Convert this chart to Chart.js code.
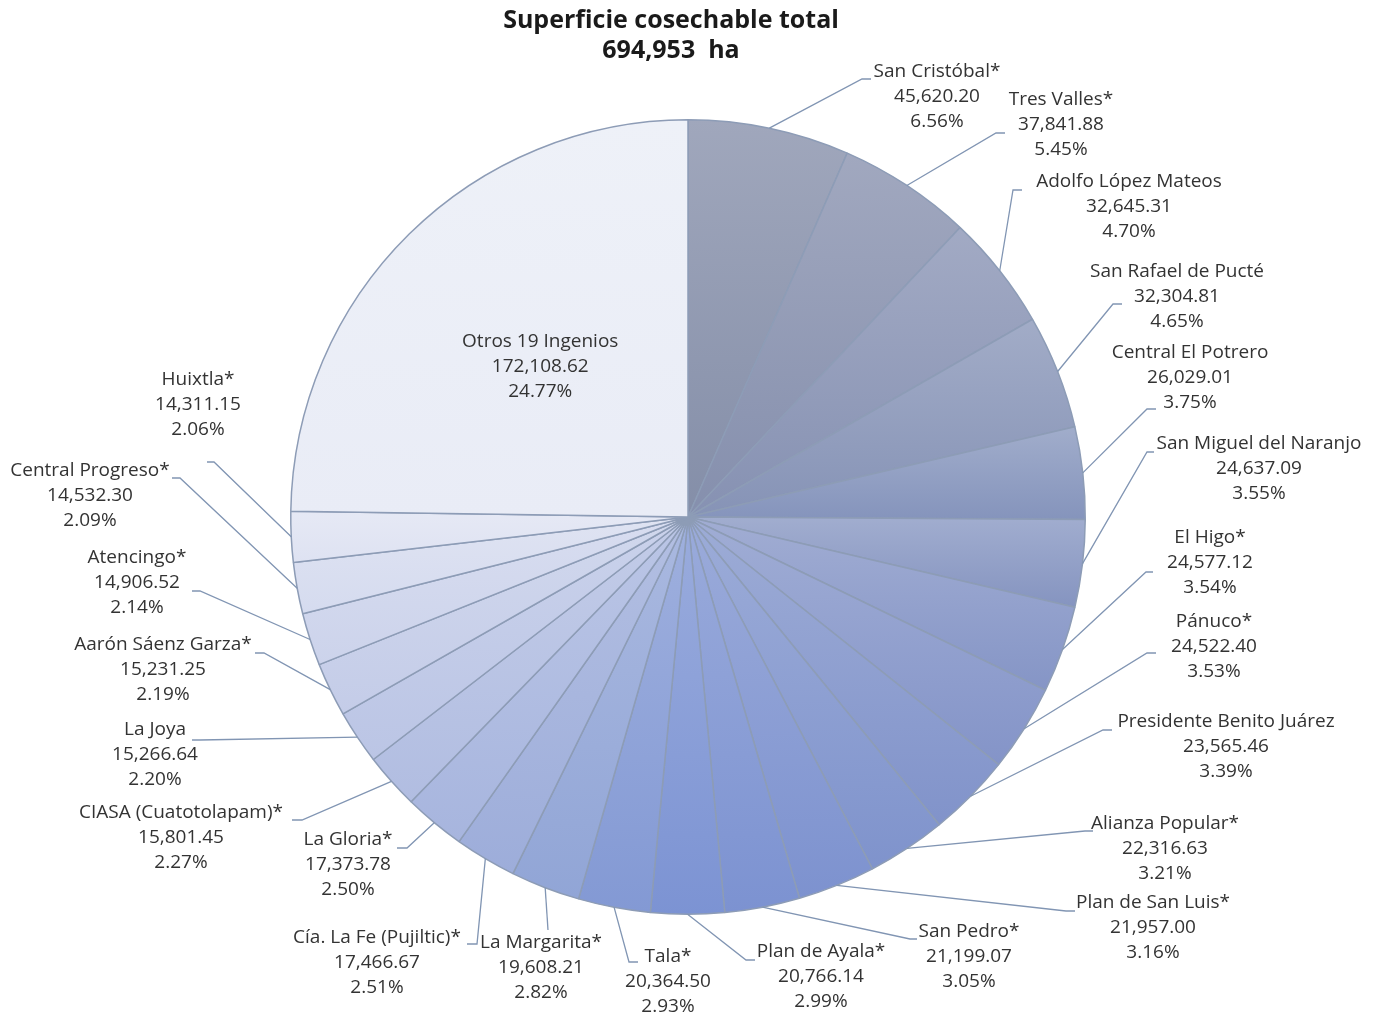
<!DOCTYPE html>
<html lang="es">
<head>
<meta charset="utf-8">
<title>Superficie cosechable total</title>
<script src="https://cdn.jsdelivr.net/npm/chart.js@4.4.1/dist/chart.umd.min.js"></script>
<style>
  html, body { margin: 0; padding: 0; background: #ffffff; }
  #wrap { position: relative; width: 1377px; height: 1016px; }
</style>
</head>
<body>
<div id="wrap"><canvas id="pieChart"></canvas></div>
<script>
// Superficie cosechable por ingenio (ha), clockwise from 12 o'clock
const NAMES = [
  "San Cristóbal*", "Tres Valles*", "Adolfo López Mateos", "San Rafael de Pucté",
  "Central El Potrero", "San Miguel del Naranjo", "El Higo*", "Pánuco*",
  "Presidente Benito Juárez", "Alianza Popular*", "Plan de San Luis*", "San Pedro*",
  "Plan de Ayala*", "Tala*", "La Margarita*", "Cía. La Fe (Pujiltic)*",
  "La Gloria*", "CIASA (Cuatotolapam)*", "La Joya", "Aarón Sáenz Garza*",
  "Atencingo*", "Central Progreso*", "Huixtla*", "Otros 19 Ingenios",
];

const VALUES = [
  45620.20, 37841.88, 32645.31, 32304.81,
  26029.01, 24637.09, 24577.12, 24522.40,
  23565.46, 22316.63, 21957.00, 21199.07,
  20766.14, 20364.50, 19608.21, 17466.67,
  17373.78, 15801.45, 15266.64, 15231.25,
  14906.52, 14532.30, 14311.15, 172108.62,
];

const TITLE_LINES = ["Superficie cosechable total", "694,953  ha"];

// Mid-tone of each slice; each gets a light-top / dark-bottom gradient
const FILLS = [
  "#8f98b0", "#9099b4", "#919bb9", "#919dbd",
  "#909ec2", "#909ec6", "#909fcb", "#8f9ecd",
  "#8c9dcf", "#8b9dd1", "#899cd3", "#889cd5",
  "#889dd7", "#8ea2d8", "#9badda", "#a6b4dd",
  "#afbce1", "#b8c3e4", "#c1cae7", "#c9d1ea",
  "#d1d7ed", "#d9def0", "#e1e5f3", "#ebeef7",
];

const EDGE_CLR = "#8d9cb6";
const LEADER_CLR = "#8195b3";
const TEXT_CLR = "#333333";
const LABEL_FONT = "19px 'Open Sans', sans-serif";
const LINE_H = 25;

// Label layout: [text centre x, first line y, stub end x, stub y, elbow x]
const LABEL_LAYOUT = [
  [937, 72, 871, 79, 862],
  [1061, 100, 1005, 133, 996],
  [1129, 182, 1022, 190, 1013],
  [1177, 272, 1122, 304, 1113],
  [1190, 353, 1156, 409, 1147],
  [1259, 444, 1154, 452, 1147],
  [1210, 538, 1153, 572, 1146],
  [1214, 622, 1156, 653, 1147],
  [1226, 722, 1112, 730, 1103],
  [1165, 824, 1093, 831, 1085],
  [1153, 903, 1075, 911, 1066],
  [969, 932, 917, 939, 910],
  [821, 952, 755, 960, 746],
  [668, 957, 638, 962, 629],
  [541, 943, 548, 930, 548],
  [377, 938, 467, 944, 477],
  [348, 840, 397, 848, 407],
  [181, 813, 292, 820, 302],
  [155, 730, 192, 740, 200],
  [163, 645, 255, 653, 264],
  [137, 558, 192, 591, 200],
  [90, 471, 172, 478, 180],
  [198, 380, 207, 462, 214],
  null, // "Otros" is labelled inside its slice
];

const TOTAL = VALUES.reduce((s, v) => s + v, 0);

// ─── Colour helpers ──────────────────────────────────────────────────────────

function hexToRgb(hex) {
  const n = parseInt(hex.slice(1), 16);
  return [(n >> 16) & 255, (n >> 8) & 255, n & 255];
}

// t > 0 moves toward white, t < 0 moves away from it
function shade(hex, t) {
  const [r, g, b] = hexToRgb(hex);
  const f = (c) => Math.max(0, Math.min(255, Math.round(c + (255 - c) * t)));
  return `rgb(${f(r)},${f(g)},${f(b)})`;
}

// Vertical gradient over the bounding box of one slice
function sliceGradient(context) {
  const i = context.dataIndex;
  const chart = context.chart;
  const area = chart.chartArea;
  if (!area || i === undefined) return FILLS[i] || FILLS[0];

  const cx = (area.left + area.right) / 2;
  const cy = (area.top + area.bottom) / 2;
  const r = Math.min(area.width, area.height) / 2;

  let cum = 0;
  for (let k = 0; k < i; k++) cum += VALUES[k];
  const a0 = -Math.PI / 2 + (2 * Math.PI * cum) / TOTAL;
  const a1 = a0 + (2 * Math.PI * VALUES[i]) / TOTAL;

  const ys = [cy, cy + r * Math.sin(a0), cy + r * Math.sin(a1)];
  [-Math.PI / 2, Math.PI / 2, (3 * Math.PI) / 2].forEach((a) => {
    if (a >= a0 && a <= a1) ys.push(cy + r * Math.sin(a));
  });
  const yMin = Math.min(...ys);
  const yMax = Math.max(...ys);

  const g = chart.ctx.createLinearGradient(0, yMin, 0, yMax);
  g.addColorStop(0, shade(FILLS[i], 0.15));
  g.addColorStop(1, shade(FILLS[i], -0.1));
  return g;
}

function fmtValue(v) {
  return v.toLocaleString("en-US", { minimumFractionDigits: 2, maximumFractionDigits: 2 });
}

function fmtPct(v) {
  return ((v / TOTAL) * 100).toFixed(2) + "%";
}

// ─── Plugin: leader lines, labels and title ──────────────────────────────────

const labelPlugin = {
  id: "pieLabels",
  afterDatasetsDraw(chart) {
    const ctx = chart.ctx;
    const meta = chart.getDatasetMeta(0);

    ctx.save();
    ctx.font = LABEL_FONT;
    ctx.fillStyle = TEXT_CLR;
    ctx.textAlign = "center";
    ctx.textBaseline = "middle";

    meta.data.forEach((arc, i) => {
      const { x, y, startAngle, endAngle, outerRadius } = arc.getProps(
        ["x", "y", "startAngle", "endAngle", "outerRadius"],
        true,
      );
      const mid = (startAngle + endAngle) / 2;
      const lines = [NAMES[i], fmtValue(VALUES[i]), fmtPct(VALUES[i])];
      const lay = LABEL_LAYOUT[i];

      if (!lay) {
        // inside label, along the mid-angle
        const lx = x + Math.cos(mid) * outerRadius * 0.53;
        const ly = y + Math.sin(mid) * outerRadius * 0.53;
        lines.forEach((t, k) => ctx.fillText(t, lx, ly + (k - 1) * LINE_H));
        return;
      }

      const [tx, ty, ax, ay, ex] = lay;
      const px = x + Math.cos(mid) * outerRadius;
      const py = y + Math.sin(mid) * outerRadius;

      ctx.strokeStyle = LEADER_CLR;
      ctx.lineWidth = 1.3;
      ctx.beginPath();
      ctx.moveTo(px, py);
      ctx.lineTo(ex, ay);
      ctx.lineTo(ax, ay);
      ctx.stroke();

      lines.forEach((t, k) => ctx.fillText(t, tx, ty + k * LINE_H));
    });

    ctx.restore();
  },
  afterDraw(chart) {
    const ctx = chart.ctx;
    ctx.save();
    ctx.font = "bold 25px 'Open Sans', sans-serif";
    ctx.fillStyle = "#1a1a1a";
    ctx.textAlign = "center";
    ctx.textBaseline = "middle";
    TITLE_LINES.forEach((t, k) => ctx.fillText(t, 671, 21 + k * 30));
    ctx.restore();
  },
};

// ─── Chart ───────────────────────────────────────────────────────────────────

new Chart(document.getElementById("pieChart"), {
  type: "pie",
  data: {
    labels: NAMES,
    datasets: [
      {
        data: VALUES,
        backgroundColor: sliceGradient,
        borderColor: EDGE_CLR,
        borderWidth: 1.5,
      },
    ],
  },
  options: {
    responsive: true,
    maintainAspectRatio: false,
    animation: false,
    events: [],
    layout: { padding: { top: 119, bottom: 101, left: 0, right: 1 } },
    plugins: {
      legend: { display: false },
      tooltip: { enabled: false },
      title: { display: false },
    },
  },
  plugins: [labelPlugin],
});
</script>
</body>
</html>
